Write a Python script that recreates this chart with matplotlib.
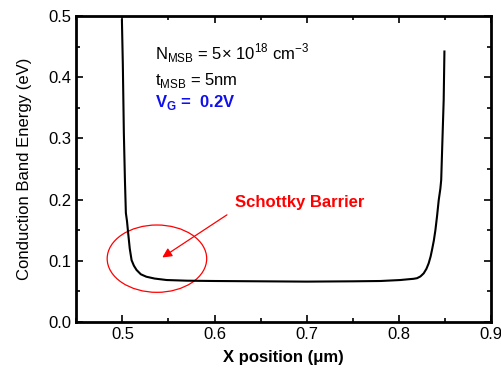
import matplotlib
matplotlib.use("Agg")
import matplotlib.pyplot as plt
from matplotlib.patches import Ellipse
from matplotlib.ticker import MultipleLocator

plt.rcParams['font.family'] = ['Liberation Sans', 'DejaVu Sans']
plt.rcParams['mathtext.fontset'] = 'custom'
plt.rcParams['mathtext.rm'] = 'Liberation Sans'
plt.rcParams['mathtext.bf'] = 'Liberation Sans:bold'

# conduction band profile
x_pos = [0.4995, 0.5005, 0.5016, 0.5028, 0.5038, 0.5050, 0.5063, 0.5080, 0.5100,
         0.5125, 0.5154, 0.5200, 0.5260, 0.5350, 0.5480, 0.5700, 0.6000, 0.6500,
         0.7000, 0.7500, 0.7800, 0.8016, 0.8100, 0.8160, 0.8198, 0.8235, 0.8270,
         0.8300, 0.8324, 0.8345, 0.8360, 0.8380, 0.8397, 0.8415, 0.8433, 0.8451,
         0.8460, 0.8470, 0.8487, 0.8495]
energy = [0.493, 0.420, 0.309, 0.230, 0.178, 0.165, 0.145, 0.120, 0.101,
          0.092, 0.085, 0.078, 0.074, 0.071, 0.0686, 0.0675, 0.067, 0.0665,
          0.066, 0.0665, 0.067, 0.0686, 0.0698, 0.0706, 0.0716, 0.0745, 0.0795,
          0.0870, 0.0959, 0.1070, 0.1176, 0.1330, 0.150, 0.173, 0.199, 0.218,
          0.232, 0.281, 0.363, 0.442]

fig = plt.figure(figsize=(5.02, 3.76), dpi=100)
ax = fig.add_axes([0.152, 0.1436, 0.826, 0.8138])

ax.plot(x_pos, energy, color='black', lw=1.5)

ax.set_xlim(0.45, 0.9)
ax.set_ylim(0.0, 0.5)
ax.xaxis.set_minor_locator(MultipleLocator(0.05))
ax.yaxis.set_minor_locator(MultipleLocator(0.05))
ax.set_xticks([0.5, 0.6, 0.7, 0.8, 0.9])
ax.set_xticklabels(['0.5', '0.6', '0.7', '0.8', '0.9'])
ax.set_yticks([0.0, 0.1, 0.2, 0.3, 0.4, 0.5])
ax.set_yticklabels(['0.0', '0.1', '0.2', '0.3', '0.4', '0.5'])
ax.tick_params(which='both', direction='in', top=True, right=True, labelsize=12, width=1.2)
ax.tick_params(which='major', length=5)
ax.tick_params(which='minor', length=3)
for s in ax.spines.values():
    s.set_linewidth(2)

ax.set_xlabel('X position (μm)', fontsize=12, fontweight='bold', labelpad=6)
ax.set_ylabel('Conduction Band Energy (eV)', fontsize=12, labelpad=12)

ax.text(0.5353, 0.44, r'N$_{\mathrm{MSB}}$ = 5× 10$^{18}$ cm$^{-3}$', fontsize=12, va='center')
ax.text(0.5353, 0.395, r't$_{\mathrm{MSB}}$ = 5nm', fontsize=12, va='center')
ax.text(0.5353, 0.358, r'V$_{\mathbf{G}}$ =  0.2V', fontsize=12, va='center',
        color='#1010ee', fontweight='bold')

ax.add_patch(Ellipse((0.5375, 0.1035), 0.108, 0.110, fill=False, color='red', lw=0.9))
ax.annotate('', xy=(0.5408, 0.103), xytext=(0.616, 0.1776),
            arrowprops=dict(arrowstyle='-|>', color='red', lw=0.9, mutation_scale=14))
ax.text(0.6223, 0.196, 'Schottky Barrier', fontsize=12, color='red',
        fontweight='bold', va='center')

fig.savefig('out.png', dpi=100)
